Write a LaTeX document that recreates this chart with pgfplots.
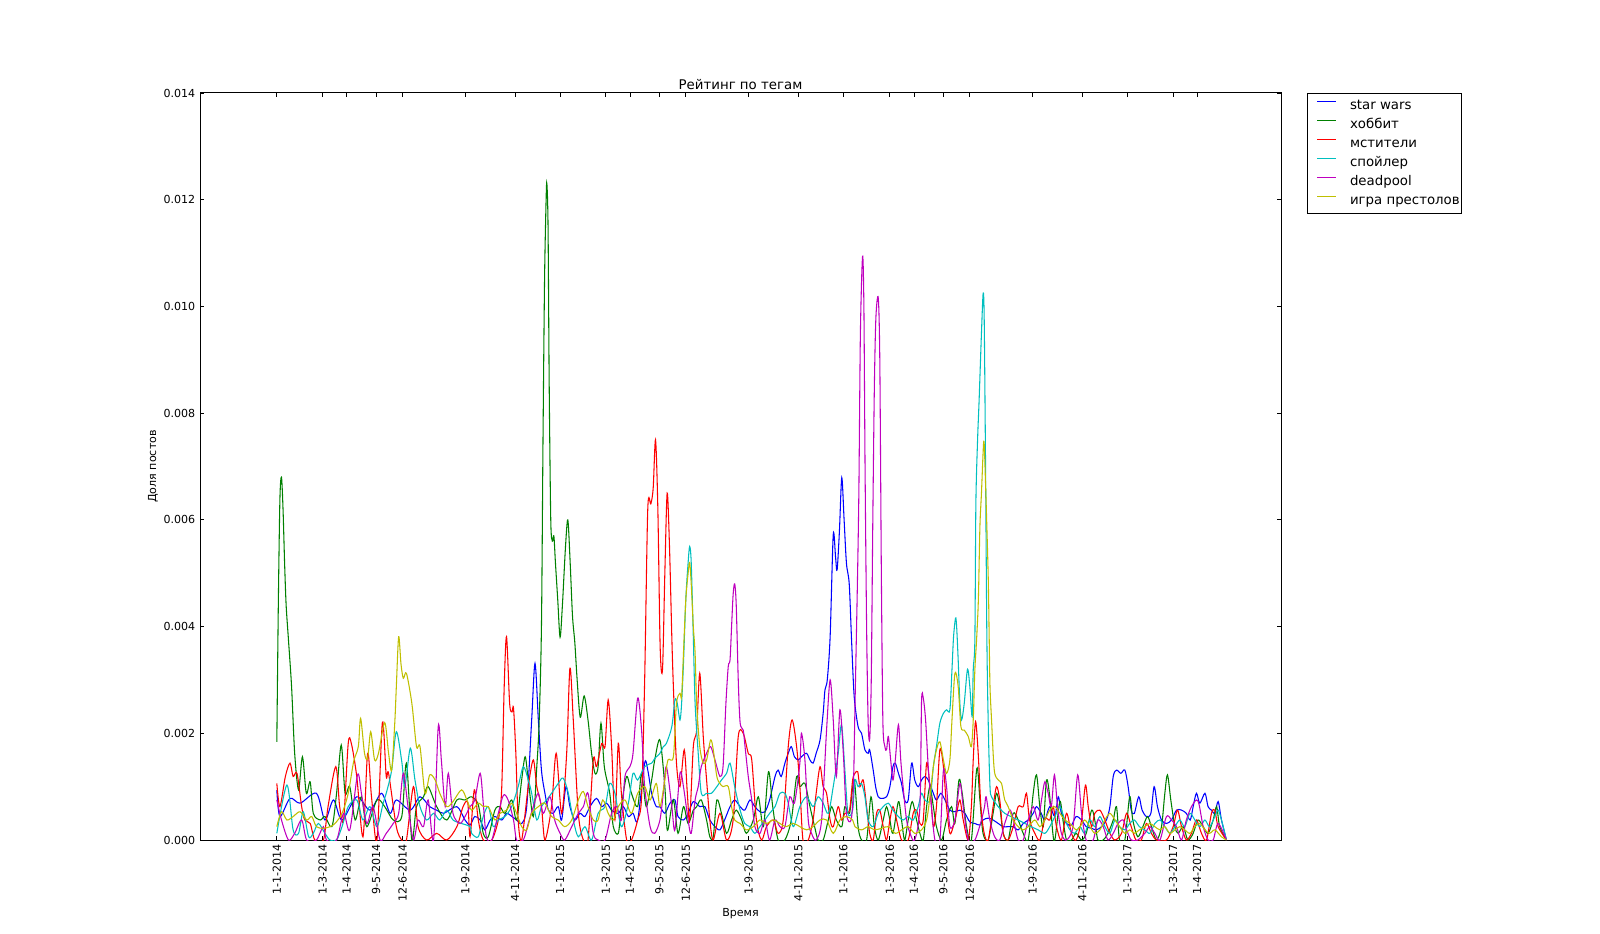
\documentclass[border=0pt]{standalone}
\usepackage{fontspec}
\setmainfont{DejaVu Sans}
\usepackage{pgfplots}
\pgfplotsset{compat=1.18}
\definecolor{mplb}{rgb}{0,0,1}
\definecolor{mplg}{rgb}{0,0.5,0}
\definecolor{mplr}{rgb}{1,0,0}
\definecolor{mplc}{rgb}{0,0.75,0.75}
\definecolor{mplm}{rgb}{0.75,0,0.75}
\definecolor{mply}{rgb}{0.75,0.75,0}
\begin{document}
\begin{tikzpicture}
\useasboundingbox (0,0) rectangle (1200pt,699.75pt);
\begin{axis}[
  at={(150pt,69.75pt)}, anchor=south west,
  scale only axis, width=810.75pt, height=560.25pt,
  xmin=-99, xmax=1294, ymin=0, ymax=0.014,
  axis line style={line width=0.75pt, black},
  tick align=inside, major tick length=3.3pt,
  major tick style={line width=0.6pt, black},
  /pgf/number format/assume math mode=true,
  xtick={0,59,90,128,162,243,307,365,424,455,493,527,608,672,730,790,821,859,893,974,1038,1096,1155,1186},
  xticklabels={1-1-2014,1-3-2014,1-4-2014,9-5-2014,12-6-2014,1-9-2014,4-11-2014,1-1-2015,1-3-2015,1-4-2015,9-5-2015,12-6-2015,1-9-2015,4-11-2015,1-1-2016,1-3-2016,1-4-2016,9-5-2016,12-6-2016,1-9-2016,4-11-2016,1-1-2017,1-3-2017,1-4-2017},
  xticklabel style={rotate=90, anchor=east, font=\fontsize{8.3}{10}\selectfont},
  ytick={0,0.002,0.004,0.006,0.008,0.010,0.012,0.014},
  yticklabels={0.000,0.002,0.004,0.006,0.008,0.010,0.012,0.014},
  yticklabel style={font=\fontsize{8.3}{10}\selectfont},
  scaled y ticks=false,
  title={Рейтинг по тегам},
  title style={at={(axis description cs:0.5,1)}, anchor=base, yshift=-3.5pt, font=\fontsize{10}{12}\selectfont},
  xlabel={Время},
  ylabel={Доля постов},
  every axis x label/.style={at={([yshift=-55.5pt]axis description cs:0.5,0)}, anchor=center, font=\fontsize{8.3}{10}\selectfont},
  every axis y label/.style={at={([xshift=-35.25pt]axis description cs:0,0.5)}, rotate=90, anchor=center, font=\fontsize{8.3}{10}\selectfont},
  legend style={at={([xshift=19.5pt]axis description cs:1,1)}, anchor=north west, draw=black, line width=0.75pt,
    font=\fontsize{10}{12}\selectfont, inner xsep=1.5pt, inner ysep=2.25pt, row sep=0pt,
    nodes={inner sep=0pt, text height=9.5pt, text depth=4.75pt},
    /tikz/every odd column/.append style={column sep=10.5pt}},
  legend cell align=left,
  legend image code/.code={\path[draw=none, fill=none] (0pt,3pt) rectangle (0.1pt,3.2pt); \draw[#1, sharp plot, line width=0.75pt] (5.75pt,3.125pt) -- (19.5pt,3.125pt);},
]
\addplot[mplb, line width=0.8pt, smooth, tension=0.5] coordinates {
(0,0.00094)(4,0.00044)(17,0.00078)(30,0.00069)(51,0.000875)(62,0.000375)(73,0.00075)(84,0.000375)(103,0.00081)(120,0.00056)(135,0.000875)(146,0.0005)(154,0.00075)(172,0.00056)(184.5,0.00081)(197,0.000625)(206,0.00056)(215,0.0005)(232,0.000625)(242.5,0.000375)(249,0.00028)(255,0.00044)(262,0.000375)(268,0.00019)(275,0.000375)(281,0.00044)(290,0.000375)(296,0.0005)(303,0.00044)(309,0.000375)(315.5,0.00031)(322,0.000625)(328.4,0.00225)(332.7,0.00331)(337,0.00225)(341,0.00131)(345.5,0.000875)(350,0.00056)(356,0.0005)(362.6,0.000625)(367,0.000375)(372.6,0.001)(377.7,0.000625)(384,0.000375)(390.6,0.0005)(397,0.00044)(403.5,0.000625)(412,0.00078)(418.6,0.000625)(425,0.00069)(431.4,0.00056)(440,0.0005)(446.5,0.000625)(453,0.00044)(459,0.0005)(465,0.000375)(474,0.00144)(478,0.00131)(483,0.000875)(489,0.000625)(493.7,0.000625)(500,0.0005)(506.6,0.00069)(513,0.00075)(517,0.00044)(524,0.000375)(530,0.0005)(536.7,0.00072)(545,0.000625)(551.6,0.000625)(558,0.000375)(564.6,0.00025)(571,0.00019)(577,0.000375)(584,0.000625)(590,0.00075)(597,0.000625)(603,0.00056)(609.6,0.00075)(616,0.000625)(622.5,0.00053)(629,0.00053)(635,0.00075)(642,0.00119)(646,0.00131)(650,0.00119)(654.7,0.00144)(659,0.001625)(663,0.00175)(667,0.00156)(672,0.0015)(676,0.00156)(682.6,0.001625)(687,0.0015)(691,0.00144)(695,0.001625)(700,0.001875)(704,0.002375)(706.3,0.00281)(709.3,0.003)(713,0.00381)(717,0.00572)(720,0.0053)(722,0.00506)(725,0.0058)(728,0.00679)(731,0.0060)(734,0.00519)(737.6,0.0048)(740.6,0.00375)(744,0.00269)(749,0.002125)(753.5,0.002)(757.8,0.00169)(762,0.001625)(764,0.00169)(768.5,0.00131)(771.6,0.001)(775,0.00081)(779.4,0.00078)(785.7,0.00081)(790,0.001)(794,0.001375)(797,0.00144)(801,0.00125)(805,0.00106)(809,0.00075)(813.6,0.00075)(818,0.00144)(822,0.001125)(826.5,0.001)(830.8,0.001125)(835,0.00119)(839.4,0.001125)(846,0.000875)(850,0.00075)(855.7,0.000875)(861,0.00075)(867.3,0.00056)(873.8,0.00053)(880.2,0.00056)(886.6,0.0005)(893,0.00034)(899.5,0.00031)(906,0.00028)(910,0.000375)(916.7,0.00041)(923,0.000375)(929.6,0.00031)(936,0.00025)(942.4,0.00025)(948.9,0.00025)(955.3,0.00019)(961.8,0.00031)(968.2,0.000375)(974.7,0.0005)(979,0.000625)(985,0.0005)(989.7,0.000375)(996,0.000625)(1002.6,0.00044)(1007,0.00081)(1011,0.0005)(1017.6,0.00031)(1024,0.00028)(1030,0.00044)(1037,0.000375)(1043,0.00025)(1050,0.00022)(1056,0.00019)(1062.7,0.00025)(1069,0.000375)(1073.5,0.000625)(1077.8,0.00119)(1082,0.00131)(1087.6,0.00125)(1092.8,0.00131)(1097,0.001)(1101,0.00056)(1105,0.0005)(1110.7,0.00081)(1115,0.00056)(1120.6,0.00044)(1126.3,0.0005)(1130.5,0.001)(1134.8,0.000625)(1140,0.000375)(1146.4,0.00031)(1152.9,0.000375)(1159.3,0.00056)(1165.8,0.00056)(1172,0.0005)(1177,0.000375)(1180.8,0.000625)(1185,0.000875)(1189.4,0.00069)(1196,0.000875)(1200,0.000625)(1204.4,0.00056)(1208.7,0.0005)(1213,0.00072)(1217.3,0.000375)(1223.7,0)
};
\addlegendentry{star wars}
\addplot[mplg, line width=0.8pt, smooth, tension=0.5] coordinates {
(0,0.00184)(2,0.0045)(4,0.0064)(6,0.0068)(8,0.0062)(10,0.0052)(12,0.0044)(15,0.00375)(19,0.002875)(23,0.001625)(28,0.00094)(33,0.00156)(38,0.000875)(43,0.00109)(47,0.0005)(56,0.000375)(62,0.00044)(71,0.00025)(77,0.000875)(83,0.00178)(88,0.000875)(94,0.001)(101,0.000375)(109,0.00081)(116,0.00025)(129,0.00075)(139,0.000625)(150,0.000375)(161,0.00044)(167,0.00144)(174,0)(180,0.000625)(189,0.00081)(195,0.001)(206,0.000625)(219,0.000375)(232,0.00075)(242.5,0.00075)(251,0.00081)(259.6,0.00066)(266,0.000125)(272.5,0.00006)(281,0.00056)(287.5,0.000625)(294,0.0005)(302.6,0.00075)(309,0.000375)(315.5,0.001125)(320,0.00156)(324,0.001125)(330.5,0.00044)(335,0.001375)(338,0.0022)(341,0.004)(343,0.0075)(345,0.0105)(347,0.012)(348,0.0123)(349.5,0.0115)(351,0.0085)(353,0.006)(355,0.0056)(357,0.0057)(359,0.0052)(362,0.0045)(365,0.0038)(368,0.0044)(372,0.0055)(375,0.006)(378,0.0052)(381,0.0042)(384,0.0037)(387,0.003)(391,0.0023)(396,0.0027)(401,0.00225)(405.6,0.001625)(410,0.00125)(414,0.001375)(417.7,0.00219)(422,0.001375)(429,0.000875)(433.6,0.00025)(440,0.000125)(444,0.000625)(450.8,0.00119)(457,0.000875)(465,0.000625)(470,0.00125)(476,0.000625)(483,0.001125)(487,0.0015)(493.7,0.001875)(500,0.001)(502,0.000375)(504,0.00019)(511,0.00075)(517,0.000125)(524,0.000625)(530,0.00031)(536.7,0.00056)(541,0.000625)(547,0.00075)(553.8,0.000375)(558,0.00006)(562.4,0.00006)(567,0.00075)(573,0.0005)(579.6,0.000125)(586,0.000375)(592,0.00056)(599,0.000375)(605,0.000125)(614,0.000375)(620.5,0.00081)(627,0.00025)(633.6,0.00128)(639,0.000625)(646,0)(654.7,0)(663,0.000375)(669.8,0.00119)(674,0.001)(680.5,0.00106)(687,0.000625)(693,0.00025)(697.5,0)(704,0)(710.6,0.000375)(715,0.000625)(721,0.000375)(728,0.00025)(732,0.000625)(738,0.0005)(744,0.001125)(749,0.00025)(753.5,0)(760,0)(765.6,0.00081)(770,0.00025)(775,0)(781.4,0.000375)(785.7,0.000625)(790,0.000375)(794,0.000125)(801,0.00072)(805,0.000375)(809,0)(813.6,0.000375)(818.8,0.00072)(824.4,0.000375)(828.7,0.000125)(833,0)(837.3,0.000625)(841.6,0.001)(846,0.000625)(850,0.00025)(856.6,0)(863,0.000375)(869.5,0.000625)(873.8,0.00031)(879,0.001125)(883.2,0.000875)(888.8,0.00025)(895,0)(902,0.00134)(906,0.00075)(910,0.000125)(916.7,0)(923,0.0005)(927.4,0.000875)(931.6,0.000625)(936,0.000125)(942.4,0)(948.9,0.0005)(955.3,0.000375)(961.8,0.000125)(968.2,0)(974.7,0.000875)(979,0.00122)(983.2,0.000625)(987.6,0.00025)(991.8,0.001125)(996,0.00081)(1000,0.000125)(1002.6,0)(1009,0.00072)(1013,0.000375)(1017.6,0)(1024,0)(1030,0.000125)(1037,0)(1043,0.000125)(1050,0.00056)(1054,0.000375)(1058,0)(1064.9,0)(1071,0.000125)(1077.8,0.000375)(1082,0.000625)(1086,0)(1092.8,0)(1099,0.00081)(1103,0.000375)(1109.4,0.00006)(1116,0.00025)(1122,0.00044)(1127,0.00025)(1133.6,0)(1140,0.00025)(1144.3,0.000875)(1147.7,0.00122)(1152,0.00075)(1157.2,0.00025)(1161.5,0.000125)(1168,0.00025)(1174,0)(1180.8,0.000125)(1187,0.000375)(1193.7,0.00025)(1200,0.000125)(1206.6,0.000375)(1211,0.000625)(1215,0.00025)(1223.7,0)
};
\addlegendentry{хоббит}
\addplot[mplr, line width=0.8pt, smooth, tension=0.5] coordinates {
(0,0.00106)(4,0.000625)(11,0.00119)(17,0.00144)(21,0.00119)(26,0.00125)(32,0.000625)(36,0.000375)(43,0.00031)(49,0)(60,0)(66,0.000625)(76,0.001375)(81,0.000625)(86,0.000375)(92,0.00181)(96,0.00181)(103,0.00119)(111,0.00006)(117,0.001625)(122,0.00081)(129,0)(136,0.0022)(141,0.00119)(144,0.00125)(154,0.00025)(161,0)(167,0)(176,0.001)(182,0.00025)(193,0)(206,0.000125)(219,0)(232,0.00025)(240,0.000625)(246,0.0007)(249,0.00006)(254.5,0.00094)(259.6,0.000375)(266,0)(277,0)(285.4,0.000375)(289.7,0.00094)(293,0.002875)(296,0.00381)(300,0.00256)(303,0.0024)(305,0.00247)(308,0.001625)(311,0.000375)(315.5,0)(324,0.001)(330.5,0.0015)(335,0.001)(341,0.000625)(345.5,0)(354,0.000625)(360,0.001625)(367,0.0005)(373.5,0.001625)(377.7,0.00322)(382,0.00225)(388.5,0.0005)(395,0)(401,0)(407.8,0.0015)(412,0.001375)(418.6,0.00181)(422.9,0.00175)(427,0.002625)(431.4,0.00175)(435.7,0.000375)(440,0.00181)(444,0.000875)(450.8,0)(457,0)(465,0.000375)(470,0.0008)(474,0.003)(478,0.0062)(482,0.0063)(485,0.0066)(488,0.0075)(491,0.0062)(494,0.0036)(497,0.0032)(500,0.005)(503,0.0065)(506,0.0055)(509,0.0038)(511,0.002875)(515,0.00144)(519.5,0.001)(525,0.00169)(529,0.000875)(532,0.000375)(536.7,0.00175)(541,0.00206)(545,0.003125)(549.5,0.00194)(553.8,0.001125)(558,0.000375)(562.4,0)(571,0.0005)(579.6,0)(588,0.000375)(594.6,0.00194)(601,0.002)(607.5,0.001625)(612,0.0015)(618,0.000375)(624.6,0)(631,0.00025)(639.7,0.000375)(646,0.000125)(652.6,0.000375)(659,0.00175)(664,0.00225)(669.8,0.00175)(674,0.001)(678,0)(684.8,0)(691,0.000375)(695,0.000875)(700,0.001375)(704,0.001)(708.4,0.000875)(713,0.000375)(717,0.00025)(723.4,0.000625)(727.7,0.000375)(732,0.0005)(738,0.00056)(742,0.001125)(745,0.00125)(748.5,0.00128)(751.4,0.001)(755.6,0.001125)(760,0.000625)(764,0.000125)(768.5,0)(772.8,0.0005)(777,0.00056)(781.4,0.00025)(785.7,0)(790,0.000375)(794,0.000625)(798.6,0.000375)(805,0)(813.6,0)(820,0.0005)(824.4,0.00056)(828.7,0.00031)(833,0.000375)(837.3,0.00144)(841.6,0.001)(846,0.00025)(850,0.000625)(854.4,0.00169)(859,0.001375)(863,0.000625)(867.3,0.000125)(871.6,0.00025)(876,0.0005)(880.2,0.00075)(884.5,0.000375)(891,0)(895,0.000625)(897.4,0.0015)(900.4,0.00222)(903.8,0.001625)(907.3,0.000625)(911.5,0.000125)(916.7,0)(923,0.000625)(927.4,0.001)(931.6,0.00075)(936,0.000125)(942.4,0)(948.9,0.00025)(955.3,0.000625)(961.8,0.000625)(966,0.000875)(970,0.000375)(976.8,0.000125)(983.2,0)(989.7,0.0004)(996,0.000375)(1000.4,0.000625)(1004.7,0.00025)(1011,0)(1017.6,0.0005)(1024,0.000125)(1030,0)(1037,0.000375)(1042,0.00103)(1045.6,0.000625)(1050,0.00025)(1054,0.0005)(1060.6,0.00056)(1067,0.000375)(1073.5,0.000125)(1080,0)(1088.5,0.000125)(1095,0.0005)(1101,0.00025)(1107,0)(1114,0)(1120.6,0.00031)(1127,0.000125)(1133.6,0)(1146.4,0)(1155,0.00025)(1160.6,0.00056)(1165.8,0.00025)(1172,0)(1178.6,0.000125)(1185,0.000375)(1191.5,0.000125)(1198,0)(1204.4,0.0005)(1208.7,0.00056)(1213,0.00025)(1223.7,0)
};
\addlegendentry{мстители}
\addplot[mplc, line width=0.8pt, smooth, tension=0.5] coordinates {
(0,0.000125)(13,0.00103)(21,0.00019)(28,0.000125)(34,0.00053)(41,0.00006)(47,0.000125)(53.5,0.00031)(62,0.000125)(68.5,0)(77,0)(84,0.00025)(92,0.000625)(103,0.00075)(111,0.000375)(120,0.000625)(129,0.00025)(137,0.00069)(141,0.000875)(148,0.00131)(154,0.00203)(161,0.00147)(165,0.001)(172,0.00172)(178,0.001125)(184.5,0.000625)(193,0.000375)(202,0.0005)(210,0.000375)(219,0.00056)(227,0.000375)(238,0.00031)(249,0.00025)(251,0.000125)(259.6,0.00006)(266,0.00044)(272.5,0.000625)(279,0.00025)(285.4,0.000375)(294,0.00044)(302.6,0.000625)(311,0.001)(317.6,0.001375)(324,0.001125)(328.4,0.000875)(335,0.000375)(341,0.000625)(347.6,0.00075)(354,0.000875)(362.6,0.00106)(369,0.00116)(375.6,0.000875)(382,0.000375)(388.5,0.00006)(397,0.00025)(405.6,0)(414,0.0005)(422.9,0.000625)(429,0.00106)(435.7,0.000875)(444,0.00025)(453,0.00069)(459,0.00125)(465,0.001125)(474,0.001375)(483,0.00144)(487,0.00153)(493.7,0.001625)(498,0.00175)(502,0.00181)(509,0.002125)(513,0.002625)(516,0.00256)(519.5,0.00225)(521.6,0.00256)(524,0.00331)(527,0.0045)(530,0.0052)(532,0.0055)(534,0.0052)(536.7,0.0038)(539,0.00256)(543,0.001625)(547,0.000875)(553.8,0.000875)(560,0.000875)(567,0.001)(573,0.001125)(579.6,0.00125)(584,0.00144)(590,0.001)(597,0.00056)(603,0.00031)(609.6,0.00025)(616,0.000125)(622.5,0.00025)(629,0.000375)(635,0.0005)(642,0.000625)(648.3,0.000875)(654.7,0.000875)(659,0.00069)(665.5,0.00025)(674,0.000625)(682.6,0.00081)(691,0.000625)(697.5,0.00081)(704,0.00069)(710.6,0.0005)(717,0.001)(723.4,0.001625)(727.7,0.00216)(732,0.00131)(736,0.0005)(742,0.00056)(745,0.001125)(749,0.001)(753.5,0.00106)(757.8,0.00081)(762,0.000375)(768.5,0.00025)(775,0.0005)(781.4,0.000625)(788,0.00069)(794,0.00056)(801,0.00044)(807,0.000375)(813.6,0.00044)(820,0.000375)(826.5,0.000625)(830.8,0.000875)(835,0.00075)(841.6,0.00075)(846,0.001375)(850,0.00175)(854.4,0.00219)(859,0.002375)(863,0.00244)(867.3,0.00244)(870,0.00319)(872,0.0038)(874.6,0.00416)(876,0.004)(878,0.003375)(880.2,0.00256)(882.4,0.00225)(885.8,0.00256)(890,0.0032)(893,0.002875)(896,0.00231)(897.4,0.00319)(899.5,0.00375)(900.8,0.0063)(903,0.0075)(905,0.00825)(908,0.0095)(910.2,0.01025)(911.5,0.0098)(913,0.0075)(915,0.00375)(917,0.002)(919,0.001)(921,0.00081)(929.6,0.000625)(938,0.0005)(946,0.00044)(955.3,0.000375)(964,0.00031)(972,0.00025)(981,0.00019)(989.7,0.000125)(996,0.00025)(1002.6,0.00044)(1009,0.000625)(1015.5,0.000375)(1022,0.00019)(1028,0.000125)(1035,0.00025)(1041,0.000125)(1047.7,0.000375)(1054,0.00025)(1060.6,0.00044)(1067,0.00025)(1073.5,0.000125)(1080,0.000375)(1086,0.00025)(1092.8,0.00019)(1099,0.00031)(1105,0.000375)(1111.5,0.00025)(1118.5,0.00019)(1125,0.000125)(1131.4,0.00031)(1138,0.000375)(1144.3,0.00025)(1150.7,0.000125)(1157.2,0.00025)(1163.6,0.000375)(1170,0.00025)(1176.5,0.0005)(1183,0.000375)(1189.4,0.00025)(1196,0.000375)(1202,0.00025)(1208.7,0.00044)(1213,0.00056)(1217.3,0.000375)(1223.7,0)
};
\addlegendentry{спойлер}
\addplot[mplm, line width=0.8pt, smooth, tension=0.5] coordinates {
(0,0.00075)(6,0.000375)(15,0)(23,0.000125)(32,0.000375)(38.5,0)(51,0)(60,0.00025)(64,0)(77,0)(86,0.0005)(94,0.00019)(104,0.00122)(109,0.000875)(116,0.00031)(124,0.000625)(133,0)(141,0.000125)(150,0.00031)(157,0.0005)(163,0.00125)(169,0.000625)(176,0)(182,0.000375)(189,0.00025)(195,0.00075)(202,0)(208,0.002125)(212,0.0015)(217,0.000625)(221,0.00125)(227,0.0005)(236,0.00031)(242.5,0.00044)(249,0.000625)(255,0.00075)(262,0.00125)(266,0.00069)(270,0.00006)(277,0)(285.4,0.0005)(292,0.00084)(298,0.00075)(305,0.000375)(309,0)(317.6,0)(324,0.00031)(330.5,0.000625)(337,0.000875)(343.4,0.0005)(352,0.00081)(358,0.000375)(365,0.000125)(371,0)(380,0.00025)(388.5,0.0005)(395,0.000625)(401,0.000875)(407.8,0.000125)(414,0)(422.9,0)(431.4,0.0005)(438,0.000625)(444,0.000375)(448.6,0.00119)(455,0.001375)(459,0.001625)(465,0.00266)(470,0.00206)(474,0.001)(481,0.00025)(487,0.000125)(493.7,0.000375)(498,0.000875)(502,0.001375)(509,0.000625)(513,0.00019)(519.5,0.00125)(524,0.001)(530,0.000375)(534,0.000125)(539,0.00075)(543,0.001)(547,0.001375)(553.8,0.001625)(559,0.00175)(564.6,0.0015)(571,0.00119)(575,0.001375)(578.7,0.00256)(581.7,0.00325)(584,0.003375)(586,0.004)(588,0.0046)(590,0.0048)(592,0.0044)(594.6,0.003)(597,0.0022)(601,0.00206)(603,0.0018)(607.5,0.00119)(612,0.00075)(616,0.00025)(622.5,0.000125)(629,0.000375)(635,0)(642,0.000375)(648.3,0.00025)(654.7,0.00025)(661,0.00081)(667,0.00069)(674,0.00144)(676,0.002)(680.5,0.0015)(684.8,0.000375)(689,0.000125)(695,0)(702,0.000375)(708.4,0.00206)(713,0.003)(717,0.00225)(721,0.00119)(725.6,0.00244)(730,0.001625)(734,0.0005)(740,0.000375)(743,0.001)(745,0.0025)(748,0.0047)(750,0.0065)(752,0.0095)(754.8,0.01094)(756.5,0.01)(758,0.007)(760,0.004)(762,0.0022)(764,0.0019)(766,0.003)(768,0.006)(770,0.0085)(772,0.0098)(775,0.01016)(777,0.009)(779,0.005)(781,0.0022)(783.6,0.00175)(785.7,0.00169)(788,0.00194)(791,0.0015)(794,0.001125)(797,0.0015)(801,0.00216)(804,0.0015)(807,0.001)(811.5,0.000375)(816,0.000125)(822,0)(828.7,0.000625)(830.8,0.0026)(833,0.00266)(836,0.00225)(839.4,0.001375)(842.8,0.00075)(848,0)(854.4,0)(859,0.00131)(863,0.001)(867.3,0.00025)(873.8,0.000375)(880.2,0.00106)(884.5,0.000625)(891,0)(899.5,0)(908,0.000375)(912,0.000625)(914,0.00081)(918.8,0.000375)(925,0.00006)(931.6,0)(938,0.00031)(945,0.00056)(951,0.00025)(955.3,0)(961.8,0)(968.2,0.000375)(974.7,0.000625)(981,0.000375)(986,0.00081)(989.7,0.00109)(994,0.000875)(998,0.000625)(1002,0.00122)(1006,0.000625)(1011,0.000125)(1017.6,0)(1026,0.00025)(1032,0.00122)(1037,0.0005)(1043,0)(1052,0)(1058,0.000375)(1064.9,0.00025)(1071,0)(1077.8,0.000125)(1084,0.00031)(1090.6,0.000375)(1095,0.00019)(1101,0)(1109.4,0)(1118.5,0.000125)(1125,0.00025)(1131.4,0.000125)(1138,0)(1146.4,0.00044)(1152.9,0.000375)(1159.3,0.00025)(1165.8,0)(1172,0.000375)(1178.6,0.000625)(1185,0.00075)(1188.5,0.00066)(1193.7,0.00025)(1200,0)(1206.6,0)(1213,0.00031)(1223.7,0)
};
\addlegendentry{deadpool}
\addplot[mply, line width=0.8pt, smooth, tension=0.5] coordinates {
(0,0.00025)(6,0.00053)(13,0.000375)(21,0.00044)(30,0.00053)(38.5,0.000375)(45,0.00044)(51,0.00025)(60,0.00022)(68.5,0.00025)(75,0.00031)(84,0.0005)(92,0.000875)(99,0.00147)(105,0.00175)(108,0.00228)(113,0.001625)(117,0.00153)(121,0.00203)(126,0.0015)(131,0.001625)(139,0.0022)(144,0.001625)(148,0.00131)(152,0.0022)(154,0.002875)(157,0.00381)(160,0.0033)(163,0.00303)(167,0.003125)(174,0.00256)(180,0.00175)(184.5,0.00175)(191,0.000875)(197,0.00122)(204,0.001125)(210,0.000875)(219,0.000625)(227,0.00072)(238,0.00094)(245,0.00075)(251,0.00056)(259.6,0.00069)(266,0.000625)(272.5,0.000625)(281,0.000375)(287.5,0.0005)(296,0.00056)(302.6,0.00069)(309,0.0005)(315.5,0.00025)(322,0.00019)(328.4,0.0005)(337,0.000625)(345.5,0.00069)(354,0.00044)(362.6,0.000375)(371,0.00025)(380,0.000375)(388.5,0.00075)(395,0.00091)(401,0.000625)(407.8,0.000375)(414,0.000375)(420,0.00075)(427,0.0005)(433.6,0.000375)(440,0.000625)(448.6,0.00075)(457,0.0005)(465,0.000875)(474,0.001)(481,0.00075)(489,0.00106)(493.7,0.000625)(500,0.001125)(504,0.0015)(511,0.00156)(515,0.00256)(519.5,0.00275)(521.6,0.00269)(524,0.0035)(527,0.0045)(530,0.005)(532,0.0052)(534,0.0048)(536.7,0.004)(539,0.0035)(541,0.00256)(545,0.00175)(549.5,0.00144)(553.8,0.0015)(559,0.001875)(562.4,0.00169)(567,0.00119)(571,0.00106)(575,0.001)(581.7,0.001)(586,0.000625)(590,0.000375)(597,0.00031)(605,0.00019)(614,0.00025)(622.5,0.000375)(631,0.00031)(639.7,0.000375)(648.3,0.00031)(656,0.00025)(665.5,0.00031)(674,0.00025)(682.6,0.00019)(691,0.00025)(700,0.000375)(708.4,0.000375)(717,0.000125)(725.6,0.000375)(734,0.00044)(742,0.000375)(745,0.00025)(753.5,0.00019)(762,0.00025)(770,0.00019)(779.4,0.00022)(788,0.00025)(797,0.000125)(805,0.00019)(813.6,0.00025)(822,0.000125)(830.8,0.00019)(837.3,0.000375)(841.6,0.00081)(846,0.001375)(850,0.00169)(854.4,0.00184)(859,0.0015)(863,0.00125)(867.3,0.0015)(870,0.00225)(873.8,0.003125)(878,0.002875)(881.5,0.002125)(885.8,0.00206)(891,0.00194)(895,0.00175)(897.4,0.00225)(899.5,0.00319)(901.7,0.00375)(904,0.0045)(906,0.00587)(908,0.0065)(911,0.00747)(913,0.0068)(916.6,0.005)(918,0.00375)(919,0.002875)(921,0.00225)(924.5,0.00131)(929.6,0.001125)(933.9,0.00106)(938,0.00075)(942.4,0.000625)(948.9,0.000375)(955.3,0.00025)(961.8,0.00019)(968.2,0.00025)(976.8,0.000375)(983.2,0.00025)(989.7,0.000375)(996,0.00056)(1002.6,0.000625)(1009,0.0005)(1015.5,0.000375)(1022,0.00031)(1030,0.00019)(1035,0.00025)(1041,0.000375)(1047.7,0.00025)(1054,0.000125)(1060.6,0.00019)(1067,0.000375)(1073.5,0.0005)(1080,0.000375)(1086,0.00025)(1092.8,0.000125)(1099,0.00019)(1105,0.000125)(1111.5,0.00019)(1118.5,0.00025)(1125,0.00031)(1131.4,0.00025)(1138,0.00019)(1144.3,0.00025)(1150.7,0.000125)(1157.2,0.00019)(1163.6,0.00025)(1170,0.00019)(1176.5,0.000125)(1183,0.00025)(1189.4,0.00031)(1196,0.00019)(1202,0.000125)(1208.7,0.00019)(1217.3,0.00006)(1223.7,0)
};
\addlegendentry{игра престолов}
\end{axis}
\end{tikzpicture}
\end{document}
